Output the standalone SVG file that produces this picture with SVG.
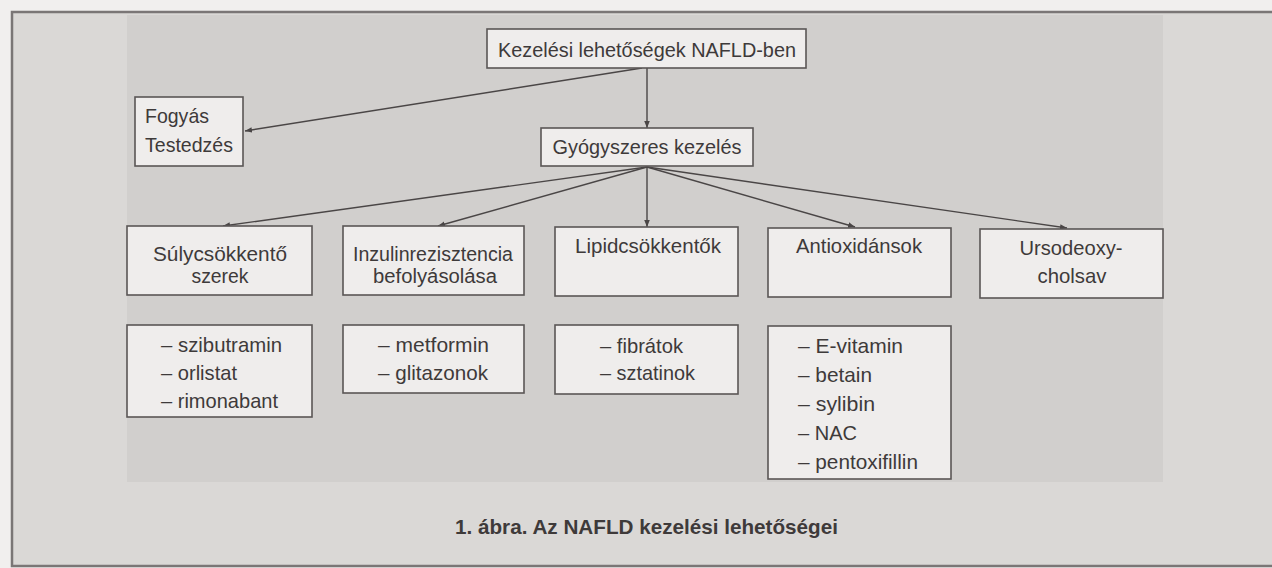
<svg xmlns="http://www.w3.org/2000/svg" width="1272" height="568" viewBox="0 0 1272 568">
  <defs>
    <marker id="ah" viewBox="0 0 10 10" refX="10" refY="5" markerWidth="7" markerHeight="7" markerUnits="userSpaceOnUse" orient="auto">
      <path d="M0,1 L10,5 L0,9 z" fill="#4a4646"/>
    </marker>
    <style>
      .box { fill: #efedec; stroke: #5a5656; stroke-width: 1.6; }
      .t { font-family: "Liberation Sans", Arial, sans-serif; font-size: 21px; fill: #3e3a3a; }
      .t2 { font-size: 20px; }
      .c { text-anchor: middle; }
      .edge { stroke: #4a4646; stroke-width: 1.4; fill: none; marker-end: url(#ah); }
      .cap { font-family: "Liberation Sans", Arial, sans-serif; font-size: 21px; font-weight: bold; fill: #3e3a3a; }
    </style>
  </defs>

  <!-- page background -->
  <rect x="0" y="0" width="1272" height="568" fill="#f1efee"/>
  <rect x="12" y="12" width="1275" height="554" fill="#dad8d6" stroke="#7a7676" stroke-width="2.5"/>
  <rect x="127" y="15" width="1036" height="467" fill="#d1cfcd"/>

  <g id="connectors">
    <line class="edge" x1="642" y1="68" x2="245" y2="131"/>
    <line class="edge" x1="647" y1="68" x2="647" y2="128"/>
    <line class="edge" x1="647" y1="167" x2="223" y2="226"/>
    <line class="edge" x1="647" y1="167" x2="438" y2="226"/>
    <line class="edge" x1="647" y1="167" x2="647" y2="227"/>
    <line class="edge" x1="647" y1="167" x2="855" y2="227"/>
    <line class="edge" x1="647" y1="167" x2="1067" y2="228"/>
  </g>

  <g id="root">
    <rect class="box" x="487" y="29" width="319" height="39"/>
    <text class="t c" x="647" y="57" textLength="298" lengthAdjust="spacingAndGlyphs">Kezelési lehetőségek NAFLD-ben</text>
  </g>

  <g id="fogyas">
    <rect class="box" x="135" y="97" width="108" height="69"/>
    <text class="t" x="145" y="123" textLength="64" lengthAdjust="spacingAndGlyphs">Fogyás</text>
    <text class="t" x="145" y="152" textLength="88" lengthAdjust="spacingAndGlyphs">Testedzés</text>
  </g>

  <g id="gyogyszeres">
    <rect class="box" x="541" y="128" width="212" height="38"/>
    <text class="t c" x="647" y="154" textLength="189" lengthAdjust="spacingAndGlyphs">Gyógyszeres kezelés</text>
  </g>

  <g id="sulycsokkento">
    <rect class="box" x="127" y="226" width="185" height="69"/>
    <text class="t t2 c" x="220" y="261" textLength="134" lengthAdjust="spacingAndGlyphs">Súlycsökkentő</text>
    <text class="t t2 c" x="220" y="283" textLength="57" lengthAdjust="spacingAndGlyphs">szerek</text>
  </g>

  <g id="inzulin">
    <rect class="box" x="343" y="226" width="181" height="69"/>
    <text class="t t2 c" x="433" y="261" textLength="160" lengthAdjust="spacingAndGlyphs">Inzulinrezisztencia</text>
    <text class="t t2 c" x="435" y="283" textLength="124" lengthAdjust="spacingAndGlyphs">befolyásolása</text>
  </g>

  <g id="lipid">
    <rect class="box" x="555" y="227" width="183" height="69"/>
    <text class="t c" x="648" y="253" textLength="146" lengthAdjust="spacingAndGlyphs">Lipidcsökkentők</text>
  </g>

  <g id="antiox">
    <rect class="box" x="768" y="228" width="183" height="69"/>
    <text class="t c" x="859" y="253" textLength="126" lengthAdjust="spacingAndGlyphs">Antioxidánsok</text>
  </g>

  <g id="urso">
    <rect class="box" x="980" y="229" width="183" height="69"/>
    <text class="t c" x="1071" y="255" textLength="103" lengthAdjust="spacingAndGlyphs">Ursodeoxy-</text>
    <text class="t c" x="1072" y="283" textLength="69" lengthAdjust="spacingAndGlyphs">cholsav</text>
  </g>

  <g id="suly-list">
    <rect class="box" x="127" y="325" width="185" height="92"/>
    <text class="t" x="161" y="352" textLength="121" lengthAdjust="spacingAndGlyphs">– szibutramin</text>
    <text class="t" x="161" y="380" textLength="76" lengthAdjust="spacingAndGlyphs">– orlistat</text>
    <text class="t" x="161" y="408" textLength="117" lengthAdjust="spacingAndGlyphs">– rimonabant</text>
  </g>

  <g id="inzulin-list">
    <rect class="box" x="343" y="325" width="181" height="68"/>
    <text class="t" x="378" y="352" textLength="111" lengthAdjust="spacingAndGlyphs">– metformin</text>
    <text class="t" x="378" y="380" textLength="110" lengthAdjust="spacingAndGlyphs">– glitazonok</text>
  </g>

  <g id="lipid-list">
    <rect class="box" x="555" y="325" width="183" height="69"/>
    <text class="t" x="600" y="353" textLength="83" lengthAdjust="spacingAndGlyphs">– fibrátok</text>
    <text class="t" x="600" y="380" textLength="95" lengthAdjust="spacingAndGlyphs">– sztatinok</text>
  </g>

  <g id="antiox-list">
    <rect class="box" x="768" y="326" width="183" height="153"/>
    <text class="t" x="798" y="353" textLength="105" lengthAdjust="spacingAndGlyphs">– E-vitamin</text>
    <text class="t" x="798" y="382" textLength="74" lengthAdjust="spacingAndGlyphs">– betain</text>
    <text class="t" x="798" y="411" textLength="77" lengthAdjust="spacingAndGlyphs">– sylibin</text>
    <text class="t" x="798" y="440" textLength="59" lengthAdjust="spacingAndGlyphs">– NAC</text>
    <text class="t" x="798" y="469" textLength="120" lengthAdjust="spacingAndGlyphs">– pentoxifillin</text>
  </g>

  <g id="caption">
    <text class="cap" x="455" y="534" textLength="383" lengthAdjust="spacingAndGlyphs">1. ábra. Az NAFLD kezelési lehetőségei</text>
  </g>
</svg>
